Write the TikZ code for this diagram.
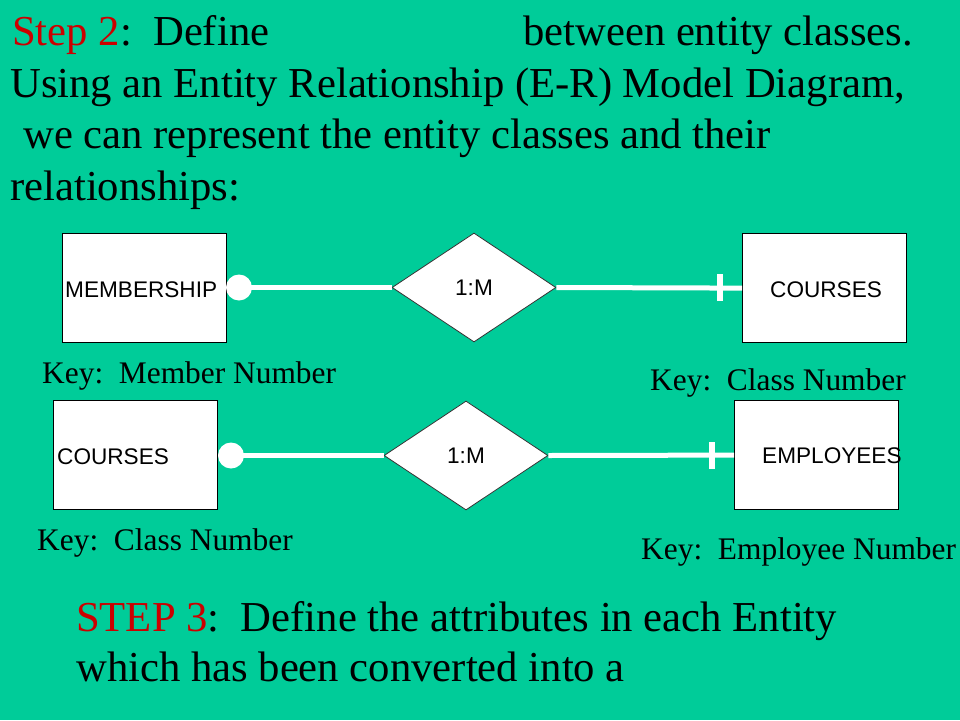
\documentclass[tikz,border=0pt]{standalone}
\usepackage{fontspec}
\setmainfont{Liberation Serif}
\newfontfamily\arialf{Liberation Sans}
\usetikzlibrary{shapes.geometric}
\definecolor{bgteal}{HTML}{00CC99}
\definecolor{stepred}{HTML}{CC0000}
\tikzset{
  bigtext/.style={anchor=base west, inner sep=0pt, font=\fontsize{42.67}{51.5}\selectfont},
  keytext/.style={anchor=base west, inner sep=0pt, font=\fontsize{31.4}{38}\selectfont},
  enttext/.style={anchor=base west, inner sep=0pt, font=\arialf\fontsize{22.6}{26}\selectfont},
  entbox/.style={draw=black, line width=1.2pt, fill=white, minimum width=164pt, minimum height=109pt, inner sep=0pt, anchor=north west},
  relbox/.style={diamond, draw=black!80, line width=0.8pt, fill=white, minimum width=164pt, minimum height=109pt, inner sep=0pt, font=\arialf\fontsize{22.6}{26}\selectfont},
  optdot/.style={circle, fill=white, minimum size=26pt, inner sep=0pt},
  link/.style={draw=white, line width=5pt},
  bar/.style={draw=white, line width=5.5pt}
}
\begin{document}
\begin{tikzpicture}[x=1pt,y=-1pt]
\fill[bgteal] (0,0) rectangle (960,720);
\useasboundingbox (0,0) rectangle (960,720);

% heading text
\node[bigtext] (t1a) at (12,45) {\textcolor{stepred}{Step 2}:\ \ Define};
\node[bigtext] (t1b) at (523,45) {between entity classes.};
\node[bigtext] (t2) at (10,97) {Using an Entity Relationship (E-R) Model Diagram,};
\node[bigtext] (t3) at (23,148) {we can represent the entity classes and their};
\node[bigtext] (t4) at (10,200) {relationships:};

% row 1
\node[entbox] (membership) at (62,233) {};
\node[enttext] (membershipl) at (65,297) {MEMBERSHIP};
\node[optdot] (c1) at (239,287.5) {};
\node[relbox] (d1) at (474,287.5) {1:M};
\node[entbox] (courses1) at (742,233) {};
\node[enttext] (courses1l) at (770,297) {COURSES};
\coordinate (tick1) at (720,287.5);
\draw[link] (c1.center) -- (d1.west);
\draw[link] (d1.east) -- (courses1.west);
\draw[bar] ([yshift=-13.5pt]tick1) -- ([yshift=13.5pt]tick1);
\node[keytext] (k1) at (42,383) {Key:\ \ Member Number};
\node[keytext] (k2) at (650,390) {Key:\ \ Class Number};

% row 2
\node[entbox] (courses2) at (53,400) {};
\node[enttext] (courses2l) at (57,464) {COURSES};
\node[optdot] (c2) at (231,455.5) {};
\node[relbox] (d2) at (466,455.5) {1:M};
\node[entbox] (employees) at (734,400) {};
\node[enttext] (employeesl) at (762,463) {EMPLOYEES};
\coordinate (tick2) at (712,455.5);
\draw[link] (c2.center) -- (d2.west);
\draw[link] (d2.east) -- (employees.west);
\draw[bar] ([yshift=-13.5pt]tick2) -- ([yshift=13.5pt]tick2);
\node[keytext] (k3) at (37,550) {Key:\ \ Class Number};
\node[keytext] (k4) at (641,559) {Key:\ \ Employee Number};

% step 3
\node[bigtext] (s1) at (76,631) {\textcolor{stepred}{STEP 3}:\ \ Define the attributes in each Entity};
\node[bigtext] (s2) at (76,681) {which has been converted into a};
\end{tikzpicture}
\end{document}
